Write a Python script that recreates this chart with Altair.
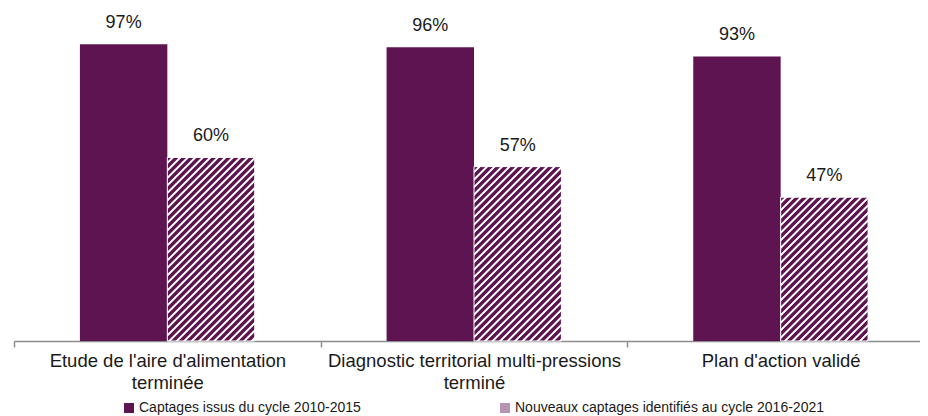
import altair as alt
import pandas as pd

categories = [
    "Etude de l'aire d'alimentation|terminée",
    "Diagnostic territorial multi-pressions|terminé",
    "Plan d'action validé",
]
series = [
    "Captages issus du cycle 2010-2015",
    "Nouveaux captages identifiés au cycle 2016-2021",
]
values_2010_2015 = [97, 96, 93]
values_2016_2021 = [60, 57, 47]

PURPLE = "#5E1451"
LILAC = "#B795B2"
TEXT = "#1a1a1a"
AXIS_GRAY = "#8c8c8c"
FONT = "Liberation Sans"

PLOT_W = 906      # visible plot width (svg stays inside the 912px page area)
RANGE_W = 920     # band range runs slightly past the visible edge, as in the reference
PLOT_H = 306
OFFSET_PAD = 0.754

rows = []
for c, v1, v2 in zip(categories, values_2010_2015, values_2016_2021):
    rows.append({"cat": c, "series": series[0], "value": v1})
    rows.append({"cat": c, "series": series[1], "value": v2})
df = pd.DataFrame(rows)

band = RANGE_W / len(categories)
bar_w = band / (len(series) + 2 * OFFSET_PAD)


def hatch(value, period=7.5):
    w = bar_w
    h = value / 100 * PLOT_H
    total = w + h
    k = total / (w * w + h * h)
    stops = []
    i = 0
    while i * period <= total:
        b = i * period
        for frac, col in [(0.0, PURPLE), (0.48, PURPLE), (0.64, "#ffffff"), (0.86, "#ffffff")]:
            off = (b + frac * period) / total
            if off <= 1:
                stops.append({"offset": round(off, 5), "color": col})
        i += 1
    return {"gradient": "linear", "x1": 0, "y1": 0, "x2": w * k, "y2": h * k, "stops": stops}


x_enc = alt.X(
    "cat:N",
    sort=categories,
    scale=alt.Scale(range=[0, RANGE_W], paddingInner=0, paddingOuter=0),
    axis=alt.Axis(
        title=None,
        labelExpr="split(datum.label, '|')",
        labelFont=FONT,
        labelFontSize=18.5,
        labelColor=TEXT,
        labelPadding=4,
        labelLineHeight=22,
        labelAngle=0,
        labelLimit=400,
        tickBand="extent",
        tickSize=6,
        tickColor=AXIS_GRAY,
        tickWidth=1.5,
        domainColor=AXIS_GRAY,
        domainWidth=1.5,
        grid=False,
    ),
)
xo_enc = alt.XOffset(
    "series:N",
    sort=series,
    scale=alt.Scale(domain=series, paddingOuter=OFFSET_PAD, paddingInner=0),
)
y_enc = alt.Y("value:Q", scale=alt.Scale(domain=[0, 100], nice=False), axis=None)

base = alt.Chart(df)

solid = base.transform_filter(alt.datum.series == series[0]).mark_bar().encode(
    x=x_enc,
    xOffset=xo_enc,
    y=y_enc,
    color=alt.Color(
        "series:N",
        scale=alt.Scale(domain=series, range=[PURPLE, LILAC]),
        legend=alt.Legend(
            title=None,
            orient="none",
            legendX=108,
            legendY=366,
            direction="horizontal",
            symbolType="square",
            symbolSize=100,
            symbolStrokeWidth=0,
            labelFont=FONT,
            labelFontSize=14,
            labelColor=TEXT,
            labelOffset=3,
            columnPadding=137,
            labelLimit=0,
        ),
    ),
)

layers = [solid]
for c, v in zip(categories, values_2016_2021):
    layers.append(
        base.transform_filter((alt.datum.series == series[1]) & (alt.datum.cat == c))
        .mark_bar(fill=hatch(v), stroke="#ffffff", strokeWidth=1)
        .encode(x=x_enc, xOffset=xo_enc, y=y_enc)
    )

labels = base.transform_calculate(lbl="format(datum.value, 'd') + '%'").mark_text(
    font=FONT, fontSize=18, color=TEXT, baseline="alphabetic", dy=-16
).encode(x=x_enc, xOffset=xo_enc, y=y_enc, text="lbl:N")
layers.append(labels)

chart = (
    alt.layer(*layers)
    .properties(
        width=PLOT_W,
        height=PLOT_H,
        padding={"left": 6, "top": 27, "right": 0, "bottom": 75},
        autosize=alt.AutoSizeParams(type="none"),
    )
    .configure_view(stroke=None)
)

chart.save("out.html", embed_options={"renderer": "svg", "actions": False})
